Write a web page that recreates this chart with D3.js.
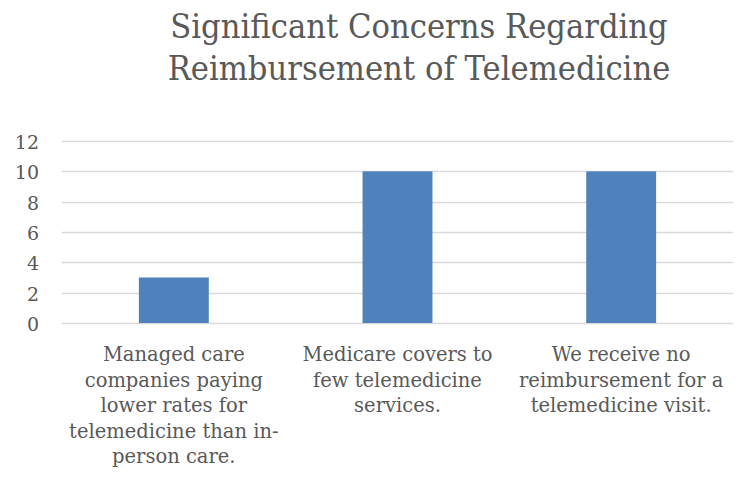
<!DOCTYPE html>
<html>
<head>
<meta charset="utf-8">
<script src="https://cdn.jsdelivr.net/npm/d3@7"></script>
<style>
  html, body { margin: 0; padding: 0; background: #fff; }
  svg text { font-family: "DejaVu Serif", "Liberation Serif", serif; fill: #595959; }
</style>
</head>
<body>
<svg id="chart" width="743" height="477"></svg>
<script>
// Chart data
const categories = [
  "Managed care companies paying lower rates for telemedicine than in-person care.",
  "Medicare covers to few telemedicine services.",
  "We receive no reimbursement for a telemedicine visit."
];
const categoryLines = [
  ["Managed care", "companies paying", "lower rates for", "telemedicine than in-", "person care."],
  ["Medicare covers to", "few telemedicine", "services."],
  ["We receive no", "reimbursement for a", "telemedicine visit."]
];
const values = [3, 10, 10];
const yTicks = [0, 2, 4, 6, 8, 10, 12];
const titleLines = ["Significant Concerns Regarding", "Reimbursement of Telemedicine"];

const svg = d3.select("#chart");
const margin = { left: 62, right: 10, top: 141, bottom: 154 };
const W = 743, H = 477;

const x = d3.scaleBand()
  .domain(categories)
  .range([margin.left, W - margin.right])
  .paddingInner(0.6875)
  .paddingOuter(0.34375);

const y = d3.scaleLinear()
  .domain([0, 12])
  .range([H - margin.bottom, margin.top]);

// Title, slightly condensed horizontally
svg.append("text")
  .attr("transform", "translate(419,0) scale(0.93,1)")
  .attr("text-anchor", "middle")
  .style("font-size", "33px")
  .selectAll("tspan")
  .data(titleLines)
  .join("tspan")
  .attr("x", 0)
  .attr("y", (d, i) => 38 + i * 42)
  .text(d => d);

// Gridlines
svg.append("g")
  .selectAll("line")
  .data(yTicks)
  .join("line")
  .attr("x1", margin.left)
  .attr("x2", W - margin.right)
  .attr("y1", d => Math.round(y(d)) + 0.5)
  .attr("y2", d => Math.round(y(d)) + 0.5)
  .attr("stroke", "#d9d9d9")
  .attr("stroke-width", 1.5);

// Y axis labels
const yAxis = d3.axisLeft(y).tickValues(yTicks).tickSize(0).tickPadding(0);
const yg = svg.append("g")
  .attr("transform", "translate(39,1)")
  .call(yAxis);
yg.select(".domain").remove();
yg.selectAll("text")
  .style("font-size", "19px")
  .style("font-family", "DejaVu Serif, serif")
  .attr("fill", "#595959")
  .attr("dy", "0.35em");

// Bars
svg.append("g")
  .selectAll("rect")
  .data(values)
  .join("rect")
  .attr("x", (d, i) => x(categories[i]))
  .attr("width", x.bandwidth())
  .attr("y", d => y(d))
  .attr("height", d => y(0) - y(d))
  .attr("fill", "#4f81bd");

// Category labels
const cat = svg.append("g")
  .selectAll("text")
  .data(categories)
  .join("text")
  .attr("text-anchor", "middle")
  .style("font-size", "19.5px");
cat.each(function (d, i) {
  const cx = x(d) + x.bandwidth() / 2;
  d3.select(this).selectAll("tspan")
    .data(categoryLines[i])
    .join("tspan")
    .attr("x", cx)
    .attr("y", (t, j) => 361 + j * 25.5)
    .text(t => t);
});
</script>
</body>
</html>
